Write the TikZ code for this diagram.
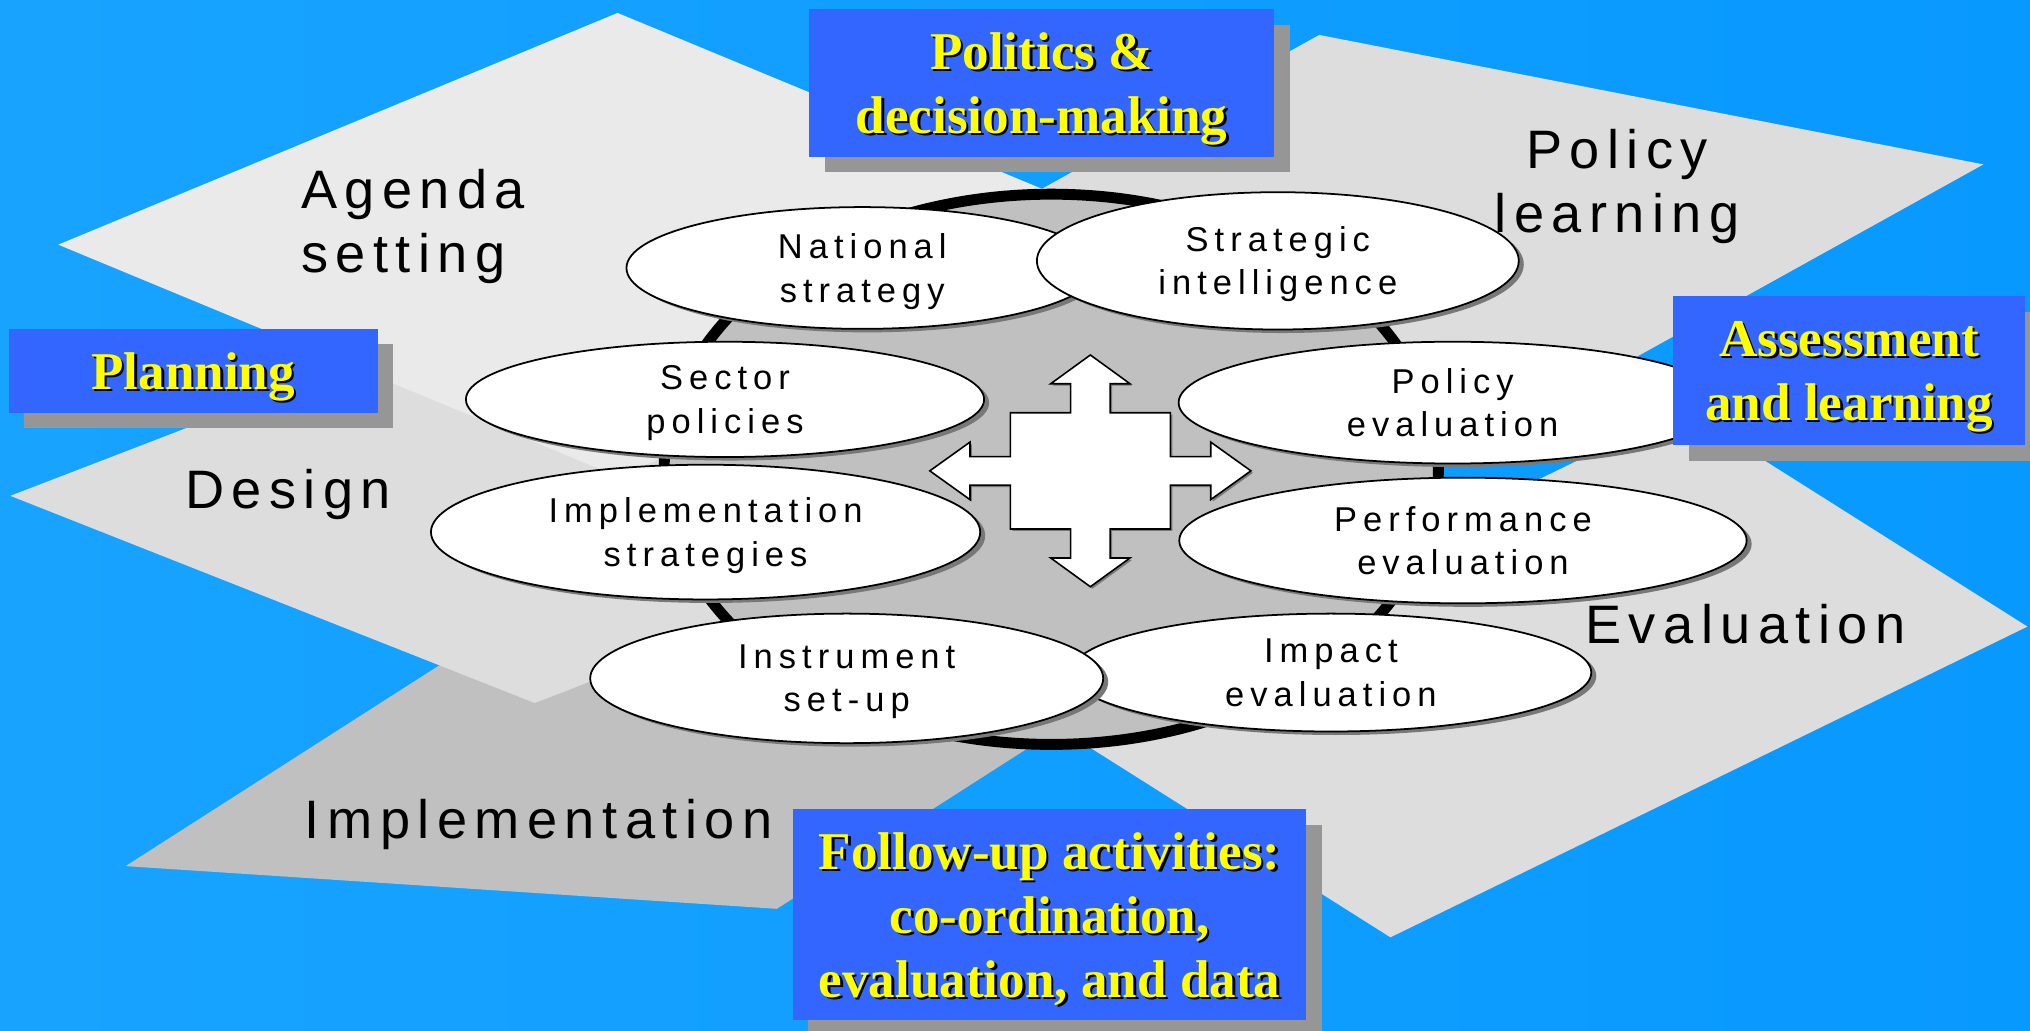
\documentclass[tikz,border=0pt]{standalone}
\usepackage{fontspec}
\setmainfont{Liberation Sans}
\newfontfamily\stagefont{Liberation Sans}[LetterSpace=13.8]
\newfontfamily\ovalfont{Liberation Sans}[LetterSpace=17.5]
\newfontfamily\titlefont{Liberation Serif}
\usetikzlibrary{shapes.geometric,shadows}

\definecolor{skyL}{RGB}{24,163,255}
\definecolor{skyR}{RGB}{8,153,255}
\definecolor{boxblue}{RGB}{51,102,255}
\definecolor{boxshade}{RGB}{150,150,150}
\definecolor{titleyellow}{RGB}{255,255,0}
\definecolor{paleA}{RGB}{234,234,234}
\definecolor{paleB}{RGB}{221,221,221}
\definecolor{midgray}{RGB}{192,192,192}
\definecolor{ovalshade}{RGB}{120,120,120}

% yellow title text with a small black drop shadow behind each line
\newcommand\shadowline[1]{\makebox[0pt][l]{\hspace{0.7pt}\raisebox{-0.7pt}{\color{black}#1}}#1}

\tikzset{
  stage/.style={font=\stagefont\fontsize{15.4pt}{18.2pt}\selectfont, inner sep=0pt, text=black},
  oval/.style={ellipse, draw=black, line width=0.5pt, fill=white, inner sep=0pt,
    align=center, text depth=0pt, font=\ovalfont\fontsize{9.8pt}{12.3pt}\selectfont,
    drop shadow={shadow xshift=0.05cm, shadow yshift=-0.035cm, fill=ovalshade, opacity=1}},
  titlebox/.style={rectangle, fill=boxblue, inner sep=0pt, align=center, text depth=0pt,
    text=titleyellow, font=\titlefont\bfseries\fontsize{15.1pt}{18.2pt}\selectfont,
    drop shadow={shadow xshift=0.155cm, shadow yshift=-0.155cm, fill=boxshade, opacity=1}},
  ringline/.style={fill=midgray, draw=black, line width=3.1pt},
  crossarrow/.style={draw=black, line width=0.45pt, fill=white, line join=miter,
    drop shadow={shadow xshift=0.02cm, shadow yshift=-0.02cm, fill=ovalshade, opacity=1}}
}

\begin{document}
\begin{tikzpicture}[x=0.0129464cm, y=-0.0129464cm]
\clip (0,0) rectangle (1568,795.6);
\shade[left color=skyL, right color=skyR] (0,0) rectangle (1568,795.6);

% the five stage planes
\fill[midgray] (97,669) -- (600,702) -- (1000,446) -- (497,413) -- cycle;   % implementation
\fill[paleB] (8,383) -- (413,543) -- (813,389) -- (408,229) -- cycle;       % design
\fill[paleA] (477,10) -- (45,189) -- (477,368) -- (909,189) -- cycle;       % agenda setting
\fill[paleB] (1074,724) -- (1566,484) -- (1300,316) -- (808,556) -- cycle;  % evaluation
\fill[paleB] (1019,27) -- (1532,127) -- (1213,304) -- (700,204) -- cycle;   % policy learning

% central ring
\coordinate (ringc) at (812,362.5);
\draw[ringline] (ringc) ellipse [x radius=299, y radius=212.5];

% stage labels
\node[stage, anchor=north west, align=left] (agenda) at (232,130) {Agenda\\setting};
\node[stage, anchor=base west] (design) at (142.5,392.5) {Design};
\node[stage, anchor=base west] (implem) at (235,647.5) {Implementation};
\node[stage, anchor=north, align=center] (polearn) at (1249,99) {Policy\\learning};
\node[stage, anchor=base west] (evalstage) at (1224,497) {Evaluation};

% activities around the ring
\node[oval, minimum width=4.7125cm, minimum height=1.2170cm] (natstrat) at (666,207) {National\\strategy};
\node[oval, minimum width=4.8161cm, minimum height=1.3723cm] (stratintel) at (987,201.5) {Strategic\\intelligence};
\node[oval, minimum width=5.1786cm, minimum height=1.1522cm] (sector) at (560,308.5) {Sector\\policies};
\node[oval, minimum width=5.4763cm, minimum height=1.2170cm] (poleval) at (1122,311) {Policy\\evaluation};
\node[oval, minimum width=5.4893cm, minimum height=1.3464cm] (implstrat) at (545,411) {Implementation\\strategies};
\node[oval, minimum width=5.6705cm, minimum height=1.2558cm] (perfeval) at (1130,417.5) {Performance\\evaluation};
\node[oval, minimum width=5.2045cm, minimum height=1.1781cm] (impact) at (1028,519.5) {Impact\\evaluation};
\node[oval, minimum width=5.1268cm, minimum height=1.2946cm] (instr) at (654,524) {Instrument\\set-up};

% four-way arrow in the middle
\coordinate (hub) at (842.2,363.7);
\begin{scope}[shift={(hub)}]
\path[crossarrow] (0,-89.5) -- (30.6,-67.3) -- (15.2,-67.3) -- (15.2,-44.9) -- (61.8,-44.9)
  -- (61.8,-11) -- (93,-11) -- (93,-22.2) -- (124,0) -- (93,22.2) -- (93,11) -- (61.8,11)
  -- (61.8,44.9) -- (15.2,44.9) -- (15.2,67.3) -- (30.6,67.3) -- (0,89.5) -- (-30.6,67.3)
  -- (-15.2,67.3) -- (-15.2,44.9) -- (-61.8,44.9) -- (-61.8,11) -- (-93,11) -- (-93,22.2)
  -- (-124,0) -- (-93,-22.2) -- (-93,-11) -- (-61.8,-11) -- (-61.8,-44.9) -- (-15.2,-44.9)
  -- (-15.2,-67.3) -- (-30.6,-67.3) -- cycle;
\end{scope}

% title boxes
\node[titlebox, minimum width=4.6478cm, minimum height=1.4759cm] (politics) at (804.5,64)
  {\shadowline{Politics \&}\\\shadowline{decision-making}};
\node[titlebox, minimum width=3.6833cm, minimum height=0.8376cm] (planning) at (149.25,286.35)
  {\shadowline{Planning}};
\node[titlebox, minimum width=3.5150cm, minimum height=1.4850cm] (assess) at (1428.25,286.35)
  {\shadowline{Assessment}\\\shadowline{and learning}};
\node[titlebox, minimum width=5.1333cm, minimum height=2.1103cm] (followup) at (810.75,706.5)
  {\shadowline{Follow-up activities:}\\\shadowline{co-ordination,}\\\shadowline{evaluation, and data}};
\end{tikzpicture}
\end{document}
